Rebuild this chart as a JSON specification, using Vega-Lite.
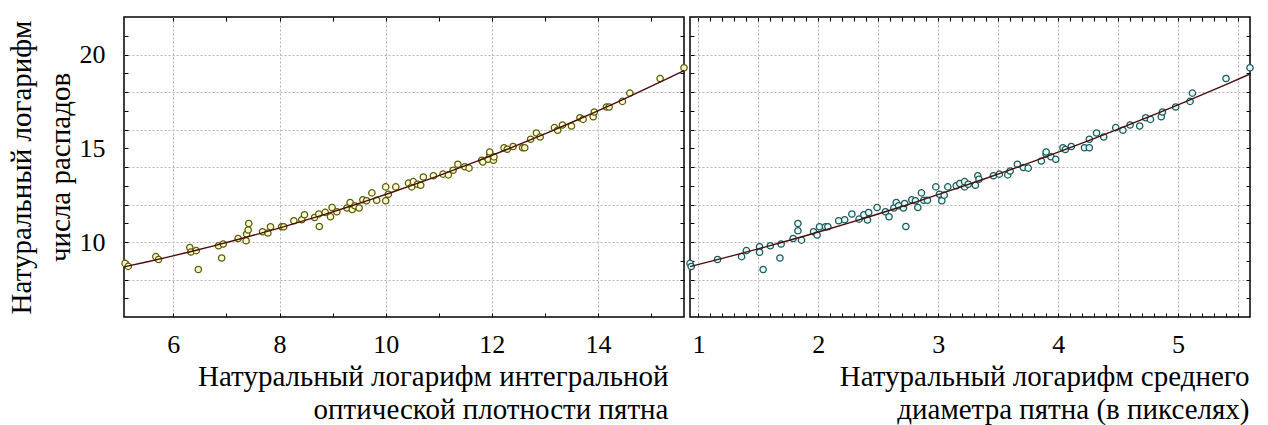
{
  "$schema": "https://vega.github.io/schema/vega-lite/v6.json",
  "padding": {"left": 6, "top": 15, "right": 0, "bottom": 0},
  "background": "white",
  "bounds": "flush",
  "config": {
    "view": {"stroke": "black", "strokeWidth": 1.5},
    "font": "Liberation Serif",
    "axis": {
      "labelFont": "Liberation Serif",
      "titleFont": "Liberation Serif",
      "labelColor": "black",
      "titleColor": "black",
      "tickColor": "black",
      "domain": false,
      "titleFontWeight": "normal",
      "minExtent": 0
    }
  },
  "spacing": 6,
  "datasets": {
    "density": [
      {"x": 5.09, "y": 8.86}, {"x": 5.15, "y": 8.70}, {"x": 5.67, "y": 9.22}, {"x": 5.72, "y": 9.07},
      {"x": 6.31, "y": 9.71}, {"x": 6.33, "y": 9.47}, {"x": 6.43, "y": 9.54}, {"x": 6.47, "y": 8.53},
      {"x": 6.85, "y": 9.80}, {"x": 6.94, "y": 9.89}, {"x": 6.91, "y": 9.15}, {"x": 7.22, "y": 10.19},
      {"x": 7.37, "y": 10.07}, {"x": 7.38, "y": 10.43}, {"x": 7.41, "y": 10.64}, {"x": 7.42, "y": 10.99},
      {"x": 7.68, "y": 10.55}, {"x": 7.78, "y": 10.48}, {"x": 7.83, "y": 10.81}, {"x": 8.04, "y": 10.81},
      {"x": 8.08, "y": 10.81}, {"x": 8.27, "y": 11.13}, {"x": 8.42, "y": 11.19}, {"x": 8.47, "y": 11.45},
      {"x": 8.66, "y": 11.31}, {"x": 8.75, "y": 10.83}, {"x": 8.74, "y": 11.49}, {"x": 8.86, "y": 11.58},
      {"x": 8.96, "y": 11.35}, {"x": 8.99, "y": 11.84}, {"x": 9.08, "y": 11.61}, {"x": 9.27, "y": 11.81},
      {"x": 9.33, "y": 12.11}, {"x": 9.37, "y": 11.73}, {"x": 9.42, "y": 11.93}, {"x": 9.50, "y": 11.81},
      {"x": 9.57, "y": 12.25}, {"x": 9.64, "y": 12.20}, {"x": 9.74, "y": 12.62}, {"x": 9.83, "y": 12.23},
      {"x": 10.00, "y": 12.20}, {"x": 10.00, "y": 12.94}, {"x": 10.05, "y": 12.55}, {"x": 10.19, "y": 12.94},
      {"x": 10.43, "y": 13.14}, {"x": 10.49, "y": 12.94}, {"x": 10.52, "y": 13.22}, {"x": 10.60, "y": 13.08},
      {"x": 10.66, "y": 13.03}, {"x": 10.71, "y": 13.47}, {"x": 10.90, "y": 13.53}, {"x": 11.08, "y": 13.62},
      {"x": 11.18, "y": 13.58}, {"x": 11.27, "y": 13.83}, {"x": 11.36, "y": 14.15}, {"x": 11.49, "y": 14.01},
      {"x": 11.57, "y": 13.94}, {"x": 11.81, "y": 14.36}, {"x": 11.83, "y": 14.27}, {"x": 11.93, "y": 14.41},
      {"x": 11.96, "y": 14.71}, {"x": 11.96, "y": 14.80}, {"x": 12.03, "y": 14.36}, {"x": 12.04, "y": 14.54},
      {"x": 12.23, "y": 15.03}, {"x": 12.29, "y": 14.95}, {"x": 12.40, "y": 15.09}, {"x": 12.58, "y": 15.03},
      {"x": 12.62, "y": 15.03}, {"x": 12.73, "y": 15.48}, {"x": 12.84, "y": 15.81}, {"x": 12.91, "y": 15.60},
      {"x": 13.18, "y": 16.10}, {"x": 13.24, "y": 15.96}, {"x": 13.33, "y": 16.24}, {"x": 13.50, "y": 16.19},
      {"x": 13.66, "y": 16.63}, {"x": 13.72, "y": 16.54}, {"x": 13.91, "y": 16.68}, {"x": 13.93, "y": 16.93},
      {"x": 14.16, "y": 17.20}, {"x": 14.21, "y": 17.20}, {"x": 14.46, "y": 17.50}, {"x": 14.60, "y": 17.94},
      {"x": 15.17, "y": 18.72}, {"x": 15.62, "y": 19.29}
    ],
    "diameter": [
      {"x": 0.93, "y": 8.86}, {"x": 0.94, "y": 8.69}, {"x": 1.16, "y": 9.07}, {"x": 1.36, "y": 9.22},
      {"x": 1.40, "y": 9.54}, {"x": 1.51, "y": 9.75}, {"x": 1.51, "y": 9.45}, {"x": 1.54, "y": 8.53},
      {"x": 1.60, "y": 9.80}, {"x": 1.68, "y": 9.15}, {"x": 1.69, "y": 9.89}, {"x": 1.79, "y": 10.19},
      {"x": 1.83, "y": 10.99}, {"x": 1.83, "y": 10.60}, {"x": 1.86, "y": 10.10}, {"x": 1.96, "y": 10.55},
      {"x": 1.99, "y": 10.37}, {"x": 2.01, "y": 10.81}, {"x": 2.06, "y": 10.81}, {"x": 2.08, "y": 10.81},
      {"x": 2.17, "y": 11.13}, {"x": 2.22, "y": 11.19}, {"x": 2.28, "y": 11.49}, {"x": 2.34, "y": 11.22},
      {"x": 2.38, "y": 11.45}, {"x": 2.41, "y": 11.17}, {"x": 2.42, "y": 11.57}, {"x": 2.49, "y": 11.84},
      {"x": 2.56, "y": 11.61}, {"x": 2.59, "y": 11.35}, {"x": 2.63, "y": 11.81}, {"x": 2.65, "y": 12.11},
      {"x": 2.67, "y": 11.93}, {"x": 2.71, "y": 11.81}, {"x": 2.72, "y": 12.05}, {"x": 2.73, "y": 10.83},
      {"x": 2.78, "y": 12.25}, {"x": 2.81, "y": 12.20}, {"x": 2.83, "y": 11.84}, {"x": 2.86, "y": 12.62},
      {"x": 2.88, "y": 12.23}, {"x": 2.91, "y": 12.23}, {"x": 2.98, "y": 12.94}, {"x": 3.01, "y": 12.55},
      {"x": 3.03, "y": 12.20}, {"x": 3.05, "y": 12.50}, {"x": 3.08, "y": 12.94}, {"x": 3.15, "y": 13.00},
      {"x": 3.18, "y": 13.12}, {"x": 3.22, "y": 12.94}, {"x": 3.22, "y": 13.22}, {"x": 3.25, "y": 13.08},
      {"x": 3.31, "y": 13.03}, {"x": 3.33, "y": 13.53}, {"x": 3.34, "y": 13.35}, {"x": 3.46, "y": 13.53},
      {"x": 3.51, "y": 13.62}, {"x": 3.58, "y": 13.58}, {"x": 3.60, "y": 13.79}, {"x": 3.66, "y": 14.15},
      {"x": 3.71, "y": 13.97}, {"x": 3.75, "y": 13.94}, {"x": 3.86, "y": 14.32}, {"x": 3.90, "y": 14.68},
      {"x": 3.90, "y": 14.80}, {"x": 3.94, "y": 14.55}, {"x": 3.98, "y": 14.41}, {"x": 4.04, "y": 15.03},
      {"x": 4.06, "y": 14.93}, {"x": 4.11, "y": 15.09}, {"x": 4.22, "y": 15.03}, {"x": 4.26, "y": 15.03},
      {"x": 4.26, "y": 15.48}, {"x": 4.32, "y": 15.81}, {"x": 4.38, "y": 15.60}, {"x": 4.48, "y": 16.10},
      {"x": 4.54, "y": 15.96}, {"x": 4.60, "y": 16.24}, {"x": 4.68, "y": 16.19}, {"x": 4.73, "y": 16.63},
      {"x": 4.77, "y": 16.54}, {"x": 4.86, "y": 16.68}, {"x": 4.87, "y": 16.93}, {"x": 4.98, "y": 17.20},
      {"x": 5.10, "y": 17.50}, {"x": 5.12, "y": 17.94}, {"x": 5.40, "y": 18.72}, {"x": 5.60, "y": 19.29}
    ]
  },
  "hconcat": [
    {
      "width": 560,
      "height": 300,
      "data": {"name": "density"},
      "resolve": {"axis": {"x": "independent", "y": "independent"}},
      "layer": [
        {
          "mark": {"type": "point", "shape": "circle", "size": 40, "fill": "#ffffd2", "fillOpacity": 1, "stroke": "#5c5c0a", "strokeWidth": 1.3, "opacity": 1},
          "encoding": {
            "x": {
              "field": "x", "type": "quantitative",
              "scale": {"domain": [5.07, 15.62], "nice": false, "zero": false},
              "axis": {
                "orient": "bottom",
                "values": [6, 7, 8, 9, 10, 11, 12, 13, 14, 15],
                "labelExpr": "datum.value % 2 === 0 ? datum.label : ''",
                "grid": true, "gridDash": [2, 2], "gridColor": "#b4b4b4", "gridWidth": 1,
                "gridOpacity": {"condition": {"test": "datum.value % 2 === 0", "value": 1}, "value": 0},
                "tickSize": -4,
                "labelFontSize": 26, "labelPadding": 18,
                "title": ["Натуральный логарифм интегральной", "оптической плотности пятна"],
                "titleFontSize": 29, "titleLineHeight": 33, "titleAlign": "right", "titleAnchor": "end",
                "titleX": 544, "titlePadding": 5
              }
            },
            "y": {
              "field": "y", "type": "quantitative",
              "scale": {"domain": [6, 22], "nice": false, "zero": false},
              "axis": {
                "orient": "left",
                "values": [7, 8, 9, 10, 11, 12, 13, 14, 15, 16, 17, 18, 19, 20, 21],
                "labelExpr": "datum.value % 5 === 0 ? datum.label : ''",
                "grid": true, "gridDash": [2, 2], "gridColor": "#b4b4b4", "gridWidth": 1,
                "gridOpacity": {"condition": {"test": "datum.value % 2 === 0", "value": 1}, "value": 0},
                "tickSize": -4,
                "labelFontSize": 26, "labelPadding": 23,
                "title": ["Натуральный логарифм", "числа распадов"],
                "titleFontSize": 29, "titleLineHeight": 39, "titlePadding": 4
              }
            }
          }
        },
        {
          "transform": [{"regression": "y", "on": "x", "method": "poly", "order": 2, "extent": [5.07, 15.62]}],
          "mark": {"type": "line", "color": "#4a0c0c", "strokeWidth": 1.4},
          "encoding": {
            "x": {
              "field": "x", "type": "quantitative",
              "scale": {"domain": [5.07, 15.62], "nice": false, "zero": false},
              "axis": {"orient": "top", "values": [6, 7, 8, 9, 10, 11, 12, 13, 14, 15], "labels": false, "grid": false, "tickSize": -4, "title": null}
            },
            "y": {
              "field": "y", "type": "quantitative",
              "scale": {"domain": [6, 22], "nice": false, "zero": false},
              "axis": {"orient": "right", "values": [7, 8, 9, 10, 11, 12, 13, 14, 15, 16, 17, 18, 19, 20, 21], "labels": false, "grid": false, "tickSize": -4, "title": null}
            }
          }
        }
      ]
    },
    {
      "width": 560,
      "height": 300,
      "data": {"name": "diameter"},
      "resolve": {"axis": {"x": "independent", "y": "independent"}},
      "layer": [
        {
          "mark": {"type": "point", "shape": "circle", "size": 40, "fill": "#e6fbfb", "fillOpacity": 1, "stroke": "#1d5a5a", "strokeWidth": 1.3, "opacity": 1},
          "encoding": {
            "x": {
              "field": "x", "type": "quantitative",
              "scale": {"domain": [0.93, 5.6], "nice": false, "zero": false},
              "axis": {
                "orient": "bottom",
                "values": [1, 1.1, 1.2, 1.3, 1.4, 1.5, 1.6, 1.7, 1.8, 1.9, 2, 2.1, 2.2, 2.3, 2.4, 2.5, 2.6, 2.7, 2.8, 2.9, 3, 3.1, 3.2, 3.3, 3.4, 3.5, 3.6, 3.7, 3.8, 3.9, 4, 4.1, 4.2, 4.3, 4.4, 4.5, 4.6, 4.7, 4.8, 4.9, 5, 5.1, 5.2, 5.3, 5.4, 5.5],
                "labelExpr": "abs(datum.value - round(datum.value)) < 0.001 ? format(datum.value, 'd') : ''",
                "grid": true, "gridDash": [2, 2], "gridColor": "#b4b4b4", "gridWidth": 1,
                "gridOpacity": {"condition": {"test": "abs(datum.value * 2 - round(datum.value * 2)) < 0.001", "value": 1}, "value": 0},
                "tickSize": -4,
                "labelFontSize": 26, "labelPadding": 18,
                "title": ["Натуральный логарифм среднего", "диаметра пятна (в пикселях)"],
                "titleFontSize": 29, "titleLineHeight": 33, "titleAlign": "right", "titleAnchor": "end",
                "titleX": 559, "titlePadding": 5
              }
            },
            "y": {
              "field": "y", "type": "quantitative",
              "scale": {"domain": [6, 22], "nice": false, "zero": false},
              "axis": {
                "orient": "left",
                "values": [7, 8, 9, 10, 11, 12, 13, 14, 15, 16, 17, 18, 19, 20, 21],
                "labels": false,
                "grid": true, "gridDash": [2, 2], "gridColor": "#b4b4b4", "gridWidth": 1,
                "gridOpacity": {"condition": {"test": "datum.value % 2 === 0", "value": 1}, "value": 0},
                "tickSize": -4,
                "title": null
              }
            }
          }
        },
        {
          "transform": [{"regression": "y", "on": "x", "method": "poly", "order": 2, "extent": [0.93, 5.6]}],
          "mark": {"type": "line", "color": "#4a0c0c", "strokeWidth": 1.4},
          "encoding": {
            "x": {
              "field": "x", "type": "quantitative",
              "scale": {"domain": [0.93, 5.6], "nice": false, "zero": false},
              "axis": {"orient": "top", "values": [1, 1.1, 1.2, 1.3, 1.4, 1.5, 1.6, 1.7, 1.8, 1.9, 2, 2.1, 2.2, 2.3, 2.4, 2.5, 2.6, 2.7, 2.8, 2.9, 3, 3.1, 3.2, 3.3, 3.4, 3.5, 3.6, 3.7, 3.8, 3.9, 4, 4.1, 4.2, 4.3, 4.4, 4.5, 4.6, 4.7, 4.8, 4.9, 5, 5.1, 5.2, 5.3, 5.4, 5.5], "labels": false, "grid": false, "tickSize": -4, "title": null}
            },
            "y": {
              "field": "y", "type": "quantitative",
              "scale": {"domain": [6, 22], "nice": false, "zero": false},
              "axis": {"orient": "right", "values": [7, 8, 9, 10, 11, 12, 13, 14, 15, 16, 17, 18, 19, 20, 21], "labels": false, "grid": false, "tickSize": -4, "title": null}
            }
          }
        }
      ]
    }
  ]
}
